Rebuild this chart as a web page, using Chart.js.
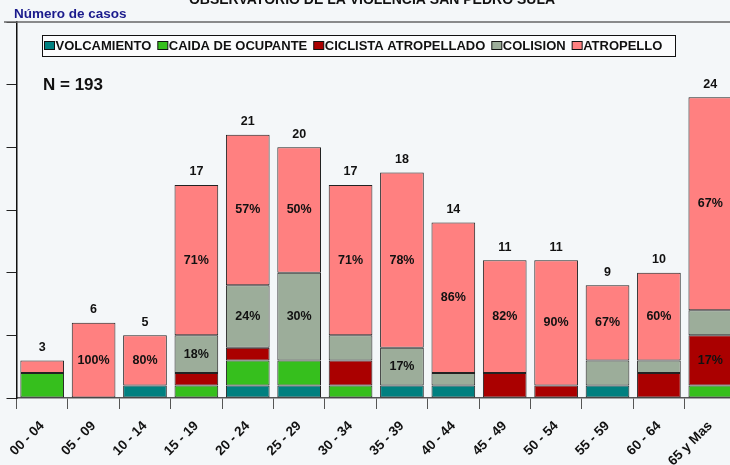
<!DOCTYPE html>
<html>
<head>
<meta charset="utf-8">
<script src="https://cdn.jsdelivr.net/npm/chart.js@4"></script>
<style>
  html, body { margin: 0; padding: 0; background: #f4f7f9; overflow: hidden; }
  #wrap { width: 740px; height: 465px; position: relative; }
</style>
</head>
<body>
<div id="wrap"><canvas id="chart"></canvas></div>
<script>
const FONT = "'Liberation Sans', Arial, sans-serif";

const CATEGORIES = ["00 - 04", "05 - 09", "10 - 14", "15 - 19", "20 - 24", "25 - 29", "30 - 34",
  "35 - 39", "40 - 44", "45 - 49", "50 - 54", "55 - 59", "60 - 64", "65 y Mas"];

const VOLCAMIENTO = [0, 0, 1, 0, 1, 1, 0, 1, 1, 0, 0, 1, 0, 0];
const CAIDA_OCUPANTE = [2, 0, 0, 1, 2, 2, 1, 0, 0, 0, 0, 0, 0, 1];
const CICLISTA = [0, 0, 0, 1, 1, 0, 2, 0, 0, 2, 1, 0, 2, 4];
const COLISION = [0, 0, 0, 3, 5, 7, 2, 3, 1, 0, 0, 2, 1, 2];
const ATROPELLO = [1, 6, 4, 12, 12, 10, 12, 14, 12, 9, 10, 6, 7, 17];

// percentage labels as printed in the original
const CICLISTA_PCT = [null, null, null, null, null, null, null, null, null, null, null, null, null, "17%"];
const COLISION_PCT = [null, null, null, "18%", "24%", "30%", null, "17%", null, null, null, null, null, null];
const ATROPELLO_PCT = [null, "100%", "80%", "71%", "57%", "50%", "71%", "78%", "86%", "82%", "90%", "67%", "60%", "67%"];

const Y_TICKS = [0, 5, 10, 15, 20, 25, 30];
const N_TOTAL = "N = 193";

const series = [
  { label: "VOLCAMIENTO", data: VOLCAMIENTO, color: "#008080", pct: null },
  { label: "CAIDA DE OCUPANTE", data: CAIDA_OCUPANTE, color: "#36bf1d", pct: null },
  { label: "CICLISTA ATROPELLADO", data: CICLISTA, color: "#aa0000", pct: CICLISTA_PCT },
  { label: "COLISION", data: COLISION, color: "#9cad9a", pct: COLISION_PCT },
  { label: "ATROPELLO", data: ATROPELLO, color: "#ff8080", pct: ATROPELLO_PCT }
];

const decor = {
  id: 'decor',
  afterDatasetsDraw(chart) {
    const ctx = chart.ctx;
    const y = chart.scales.y;
    ctx.save();

    // frame line on top
    ctx.strokeStyle = '#666';
    ctx.lineWidth = 1.5;
    ctx.beginPath();
    ctx.moveTo(4, chart.chartArea.top);
    ctx.lineTo(chart.width, chart.chartArea.top);
    ctx.stroke();

    // clipped title
    ctx.fillStyle = '#111';
    ctx.font = `bold 14px ${FONT}`;
    ctx.textAlign = 'center';
    ctx.textBaseline = 'alphabetic';
    ctx.fillText('OBSERVATORIO DE LA VIOLENCIA SAN PEDRO SULA', 372, 4);

    ctx.fillStyle = '#1a1a8c';
    ctx.font = `bold 13.5px ${FONT}`;
    ctx.textAlign = 'left';
    ctx.fillText('Número de casos', 14, 18);

    ctx.fillStyle = '#111';
    ctx.font = `bold 17px ${FONT}`;
    ctx.fillText(N_TOTAL, 43, 90);

    // legend
    ctx.fillStyle = '#fbfcfd';
    ctx.fillRect(42.5, 35.5, 633, 21);
    ctx.strokeStyle = '#111';
    ctx.lineWidth = 1;
    ctx.strokeRect(42.5, 35.5, 633, 21);
    ctx.font = `bold 13px ${FONT}`;
    ctx.textBaseline = 'middle';
    let lx = 44;
    series.forEach(s => {
      ctx.fillStyle = s.color;
      ctx.fillRect(lx + 0.5, 41.5, 10, 8);
      ctx.strokeStyle = '#111';
      ctx.strokeRect(lx + 0.5, 41.5, 10, 8);
      ctx.fillStyle = '#111';
      ctx.fillText(s.label, lx + 11.5, 46.5);
      lx += 11.5 + ctx.measureText(s.label).width + 6;
    });

    // segment percentages
    ctx.textAlign = 'center';
    ctx.font = `bold 12.5px ${FONT}`;
    series.forEach((s, i) => {
      if (!s.pct) return;
      const meta = chart.getDatasetMeta(i);
      meta.data.forEach((bar, j) => {
        if (!s.pct[j]) return;
        ctx.fillText(s.pct[j], bar.x, (bar.y + bar.base) / 2);
      });
    });

    // totals
    const meta0 = chart.getDatasetMeta(0);
    CATEGORIES.forEach((c, j) => {
      const total = series.reduce((a, s) => a + s.data[j], 0);
      ctx.fillText(String(total), meta0.data[j].x, y.getPixelForValue(total) - 13);
    });
    ctx.restore();
  }
};

new Chart(document.getElementById('chart'), {
  type: 'bar',
  data: {
    labels: CATEGORIES,
    datasets: series.map(s => ({
      label: s.label,
      data: s.data,
      backgroundColor: s.color,
      borderColor: '#222',
      borderWidth: 1,
      borderSkipped: false,
      barPercentage: 0.85,
      categoryPercentage: 1
    }))
  },
  options: {
    responsive: true,
    maintainAspectRatio: false,
    animation: false,
    layout: { padding: { left: 6.5, right: 4, top: 22, bottom: 0 } },
    plugins: { legend: { display: false }, tooltip: { enabled: false } },
    scales: {
      x: {
        stacked: true,
        grid: { drawOnChartArea: false, drawTicks: true, tickLength: 11, color: '#555' },
        border: { color: '#555', width: 1.5 },
        ticks: { color: '#111', font: { family: FONT, size: 13.5, weight: 'bold' }, maxRotation: 45, minRotation: 45, autoSkip: false, padding: 9 },
        afterFit(scale) { scale.height = 67; }
      },
      y: {
        stacked: true,
        min: 0,
        max: Y_TICKS[Y_TICKS.length - 1],
        afterBuildTicks(scale) { scale.ticks = Y_TICKS.map(v => ({ value: v })); },
        grid: { drawOnChartArea: false, drawTicks: true, tickLength: 10, color: '#222' },
        border: { color: '#111', width: 1.5 },
        ticks: { display: false }
      }
    }
  },
  plugins: [decor]
});
</script>
</body>
</html>
